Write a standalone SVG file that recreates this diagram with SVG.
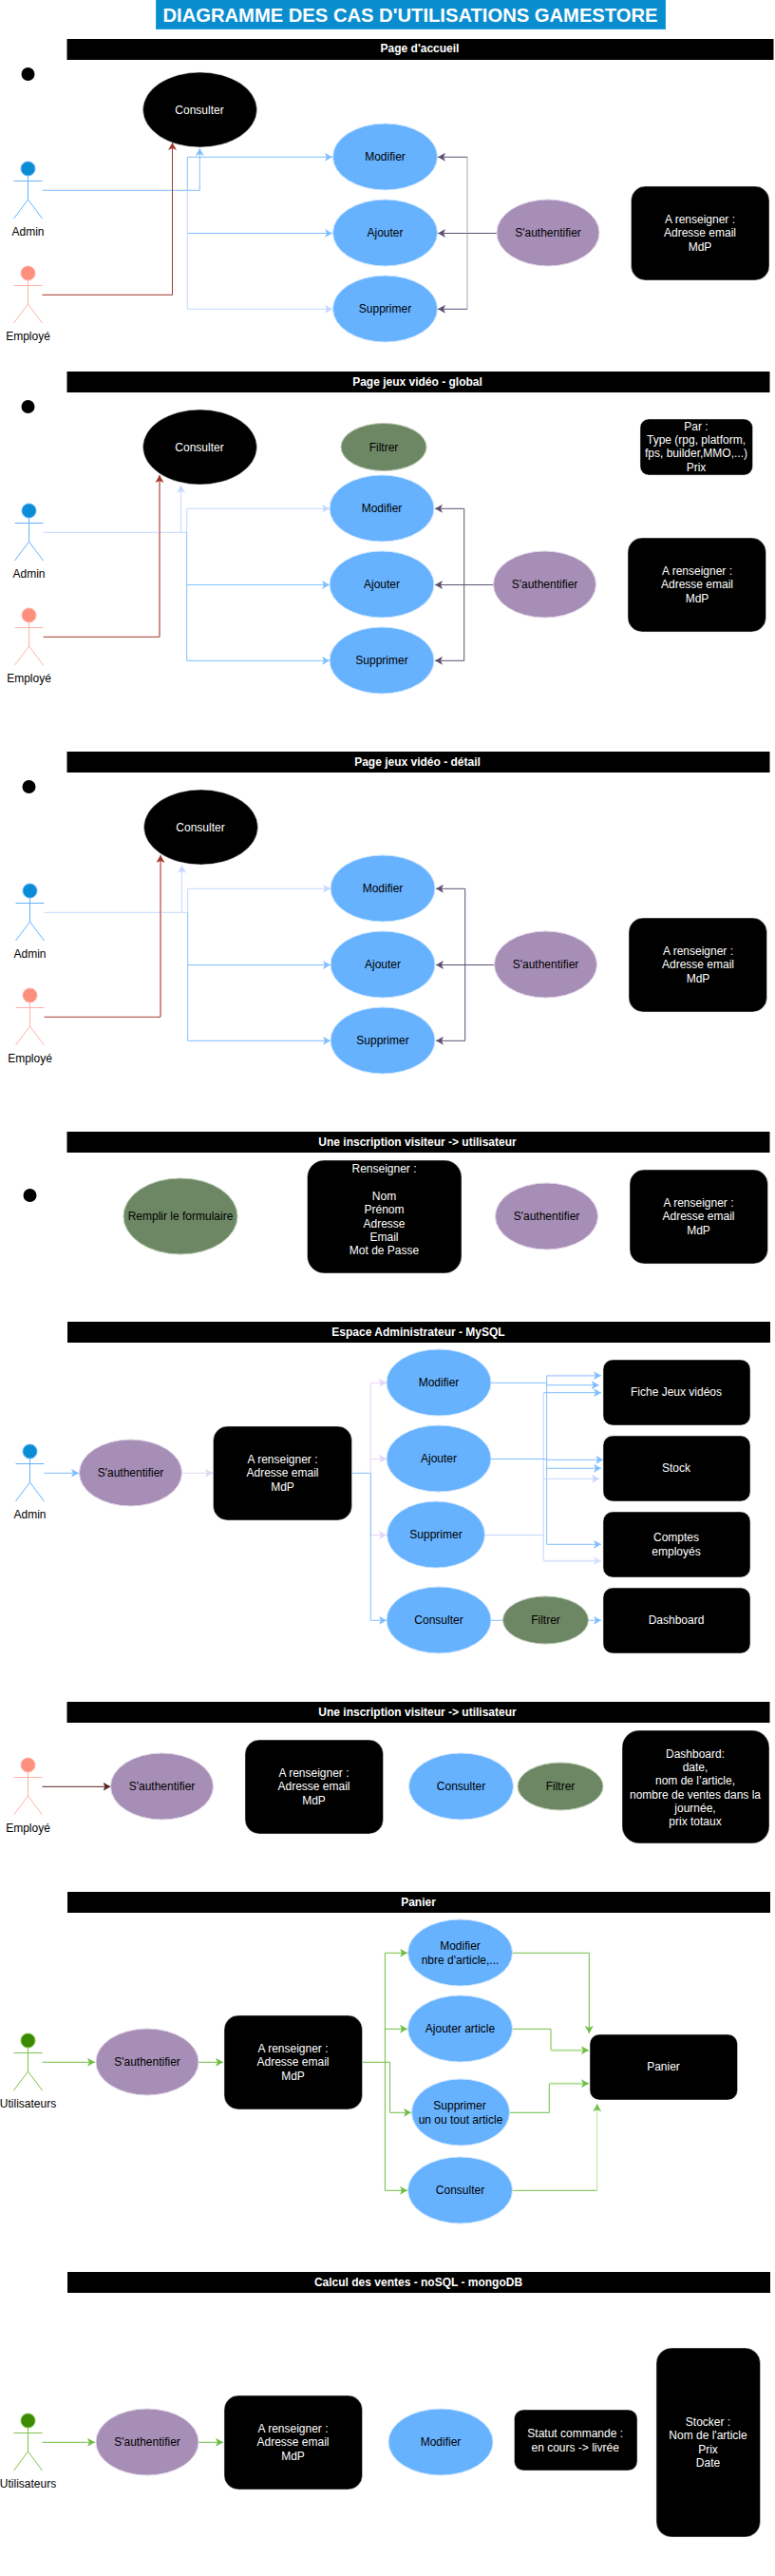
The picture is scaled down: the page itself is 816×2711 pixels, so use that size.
<svg xmlns="http://www.w3.org/2000/svg" width="816" height="2711" viewBox="0 0 816 2711">
<style>
text{font-family:"Liberation Sans",Arial,sans-serif;font-size:12px;text-anchor:middle;fill:#000;opacity:.999}
.bar rect{fill:#000}
.bar text{fill:#fff;font-weight:bold}
.uc ellipse{fill:#66b2ff;stroke:#cce5ff}
.au ellipse{fill:#a68eb6;stroke:#e1d5e7}
.fi ellipse{fill:#6d8764;stroke:#b9c9b0}
.bk ellipse,.bk rect{fill:#000;stroke:#e8e8e8;stroke-width:.5}
.bk text{fill:#fff}
.dot{fill:#000}
.actor path{fill:none}
.admin{stroke:#66b2ff}.admin ellipse{fill:#0a8dd4;stroke:#66b2ff}
.emp{stroke:#ffb3aa}.emp ellipse{fill:#ff8f7d;stroke:#ffb3aa}
.usr{stroke:#7cc24a}.usr ellipse{fill:#3b8a00;stroke:#7cc24a}
.actor text{stroke:none}
#connectors path{fill:none;stroke-width:1}
#connectors .t{stroke-width:2}
.b{stroke:#80bfff}.b.a{marker-end:url(#mb)}
.l{stroke:#c4d8ff}.l.a{marker-end:url(#ml)}
.x{stroke:#dde6ff}.x.a{marker-end:url(#mx)}
.v{stroke:#e5d6f7}.v.a{marker-end:url(#mv)}
.r{stroke:#a4382e}.r.a{marker-end:url(#mr)}
.rl{stroke:#cf8f88}
.p{stroke:#5c4f72}.p.a{marker-end:url(#mp)}
.pl{stroke:#a99fbb}
.n{stroke:#5a2424}.n.a{marker-end:url(#mn)}
.g{stroke:#6fbe44}.g.a{marker-end:url(#mg)}
.gl{stroke:#b5e09a}.gl.a{marker-end:url(#mg)}
</style>
<defs>
<marker id="mb" markerUnits="userSpaceOnUse" markerWidth="9" markerHeight="9" refX="8" refY="4.5" orient="auto"><path d="M0 0L8 4.5L0 9L2 4.5Z" fill="#80bfff"/></marker>
<marker id="ml" markerUnits="userSpaceOnUse" markerWidth="9" markerHeight="9" refX="8" refY="4.5" orient="auto"><path d="M0 0L8 4.5L0 9L2 4.5Z" fill="#c4d8ff"/></marker>
<marker id="mx" markerUnits="userSpaceOnUse" markerWidth="9" markerHeight="9" refX="8" refY="4.5" orient="auto"><path d="M0 0L8 4.5L0 9L2 4.5Z" fill="#d4e0ff"/></marker>
<marker id="mv" markerUnits="userSpaceOnUse" markerWidth="9" markerHeight="9" refX="8" refY="4.5" orient="auto"><path d="M0 0L8 4.5L0 9L2 4.5Z" fill="#e5d6f7"/></marker>
<marker id="mr" markerUnits="userSpaceOnUse" markerWidth="9" markerHeight="9" refX="8" refY="4.5" orient="auto"><path d="M0 0L8 4.5L0 9L2 4.5Z" fill="#a4382e"/></marker>
<marker id="mp" markerUnits="userSpaceOnUse" markerWidth="9" markerHeight="9" refX="8" refY="4.5" orient="auto"><path d="M0 0L8 4.5L0 9L2 4.5Z" fill="#5c4f72"/></marker>
<marker id="mn" markerUnits="userSpaceOnUse" markerWidth="9" markerHeight="9" refX="8" refY="4.5" orient="auto"><path d="M0 0L8 4.5L0 9L2 4.5Z" fill="#5a2424"/></marker>
<marker id="mg" markerUnits="userSpaceOnUse" markerWidth="9" markerHeight="9" refX="8" refY="4.5" orient="auto"><path d="M0 0L8 4.5L0 9L2 4.5Z" fill="#6fbe44"/></marker>
</defs>
<rect width="816" height="2711" fill="#fff"/>

<g id="connectors">
<!-- section 1 -->
<path class="b a" d="M44.5 200.3H210.3V156"/>
<path class="b a" d="M197.3 200.3V165.3H350"/>
<path class="b a" d="M197.3 245.5H350"/>
<path class="l a" d="M197.3 200.3V325.3H350"/>
<path class="r a" d="M44.5 310.3H181.5V150"/>
<path class="p a" d="M523 245.5H461"/>
<path class="pl" d="M492 165.3V325.3"/>
<path class="p a" d="M492 165.3H461"/>
<path class="p a" d="M492 325.3H461"/>
<!-- section 2 -->
<path class="l a" d="M45.5 560.3H190.5V510.7"/>
<path class="l a" d="M190.5 560.3H196.7V535.3H347"/>
<path class="b a" d="M196.7 560.3V695.3H347"/>
<path class="b a" d="M196.7 615.5H347"/>
<path class="rl t" d="M168 670V504"/>
<path class="r" d="M45.5 670.3H168"/>
<path class="r a" d="M168 504V500"/>
<path class="p a" d="M520 615.5H458"/>
<path class="p a" d="M488.7 615.5V535.3H458"/>
<path class="p a" d="M488.7 615.5V695.3H458"/>
<!-- section 3 -->
<path class="l a" d="M46.5 960.3H191.5V910.7"/>
<path class="l a" d="M191.5 960.3H197.7V935.3H348"/>
<path class="b a" d="M197.7 960.3V1095.3H348"/>
<path class="b a" d="M197.7 1015.5H348"/>
<path class="rl t" d="M169 1070V904"/>
<path class="r" d="M46.5 1070.3H169"/>
<path class="r a" d="M169 904V900"/>
<path class="p a" d="M521 1015.5H459"/>
<path class="p a" d="M489.7 1015.5V935.3H459"/>
<path class="p a" d="M489.7 1015.5V1095.3H459"/>
<!-- section 5 -->
<path class="b a" d="M46.5 1550.3H83"/>
<path class="v a" d="M191 1550.3H224"/>
<path class="b" d="M371 1550.3H390.3"/>
<path class="v a" d="M390.3 1550.3V1455.3H407"/>
<path class="v a" d="M390.3 1535.3H407"/>
<path class="v a" d="M390.3 1550.3V1615.5H407"/>
<path class="b a" d="M390.3 1550.3V1705.3H407"/>
<path class="b" d="M517 1455.3H575.7"/>
<path class="l t" d="M575.7 1447.7H629"/>
<path class="b a" d="M629 1447.7H633"/>
<path class="b" d="M575.7 1447.7V1625.3"/>
<path class="b a" d="M575.7 1457.7H630.7"/>
<path class="b a" d="M572.3 1465.7H633"/>
<path class="l" d="M572.3 1465.7V1642.7"/>
<path class="b a" d="M517 1535.5H575.7V1536.3H635.3"/>
<path class="b a" d="M575.7 1545.3H633"/>
<path class="l a" d="M572.3 1556.3H631"/>
<path class="b a" d="M575.7 1625.3H633"/>
<path class="l" d="M510.5 1615.5H572.3"/>
<path class="x t a" d="M572.3 1642.7H633"/>
<path class="b" d="M517 1705.3H530"/>
<path class="b a" d="M619 1705.3H633"/>
<!-- section 6 -->
<path class="n a" d="M44.5 1880.3H116.5"/>
<!-- section 7 -->
<path class="g a" d="M44.5 2170.3H100"/>
<path class="g a" d="M209 2170.3H235"/>
<path class="g" d="M382 2170.3H410.6"/>
<path class="g a" d="M410.6 2170.3V2223.3H433"/>
<path class="g a" d="M405.4 2170.3V2055.3H429"/>
<path class="g a" d="M405.4 2135.3H429"/>
<path class="g a" d="M405.4 2170.3V2305.3H429"/>
<path class="g a" d="M540 2055.3H620.3V2140"/>
<path class="g" d="M540 2135.3H580V2157.7"/>
<path class="gl t a" d="M580 2157.7H620"/>
<path class="g" d="M537 2223.3H578.3V2192.7"/>
<path class="gl t a" d="M578.3 2192.7H620"/>
<path class="g" d="M540 2305.3H628.7"/>
<path class="gl" d="M628.7 2305.3V2220"/>
<path class="g a" d="M628.7 2220V2214.3"/>
<!-- section 8 -->
<path class="g a" d="M44.5 2570.3H100"/>
<path class="g a" d="M209 2570.3H235"/>
</g>

<g id="title"><rect x="164.5" y="-1" width="536" height="31.5" fill="#0a8dcf" stroke="#1ba1e2"/><text x="432" y="22.5" style="font-size:20.2px;font-weight:bold;fill:#fff">DIAGRAMME DES CAS D'UTILISATIONS GAMESTORE</text></g>

<!-- Section 1 -->
<g id="bar1" class="bar"><rect x="70.5" y="41" width="744" height="22"/><text x="442" y="55">Page d'accueil</text></g>
<ellipse id="dot1" class="dot" cx="29.5" cy="78" rx="7" ry="7"/>
<g id="s1-consulter" class="bk"><ellipse cx="210.5" cy="115.5" rx="60" ry="39.5"/><text x="210" y="119.5">Consulter</text></g>
<g id="s1-modifier" class="uc"><ellipse cx="405.5" cy="165" rx="55" ry="35"/><text x="405.5" y="169">Modifier</text></g>
<g id="s1-ajouter" class="uc"><ellipse cx="405.5" cy="245" rx="55" ry="35"/><text x="405.5" y="249">Ajouter</text></g>
<g id="s1-supprimer" class="uc"><ellipse cx="405.5" cy="325" rx="55" ry="35"/><text x="405.5" y="329">Supprimer</text></g>
<g id="s1-auth" class="au"><ellipse cx="577" cy="245" rx="54" ry="35"/><text x="577" y="249">S'authentifier</text></g>
<g id="s1-box" class="bk"><rect x="664.5" y="196" width="145.5" height="99" rx="15"/><text x="737" y="235">A renseigner :</text><text x="737" y="249.4">Adresse email</text><text x="737" y="263.8">MdP</text></g>
<g id="s1-admin" class="actor admin" transform="translate(14.5,170)"><ellipse cx="15" cy="7.5" rx="7.5" ry="7.5"/><path d="M15 15V40M0 20.5H30M15 40L0 60M15 40L30 60"/><text x="15" y="78">Admin</text></g>
<g id="s1-emp" class="actor emp" transform="translate(14.5,280)"><ellipse cx="15" cy="7.5" rx="7.5" ry="7.5"/><path d="M15 15V40M0 20.5H30M15 40L0 60M15 40L30 60"/><text x="15" y="78">Employé</text></g>

<!-- Section 2 -->
<g id="bar2" class="bar"><rect x="70.5" y="391" width="740" height="22"/><text x="439.5" y="406">Page jeux vidéo - global</text></g>
<ellipse id="dot2" class="dot" cx="29.5" cy="428" rx="7" ry="7"/>
<g id="s2-consulter" class="bk"><ellipse cx="210.5" cy="470.5" rx="60" ry="39.5"/><text x="210" y="474.5">Consulter</text></g>
<g id="s2-filtrer" class="fi"><ellipse cx="404" cy="470.5" rx="45" ry="25"/><text x="404" y="474.5">Filtrer</text></g>
<g id="s2-modifier" class="uc"><ellipse cx="402" cy="535" rx="55" ry="35"/><text x="402" y="539">Modifier</text></g>
<g id="s2-ajouter" class="uc"><ellipse cx="402" cy="615" rx="55" ry="35"/><text x="402" y="619">Ajouter</text></g>
<g id="s2-supprimer" class="uc"><ellipse cx="402" cy="695" rx="55" ry="35"/><text x="402" y="699">Supprimer</text></g>
<g id="s2-auth" class="au"><ellipse cx="573.5" cy="615" rx="54" ry="35"/><text x="573.5" y="619">S'authentifier</text></g>
<g id="s2-par" class="bk"><rect x="674" y="441" width="118.5" height="59" rx="9"/><text x="733" y="452.5">Par :</text><text x="733" y="467">Type (rpg, platform,</text><text x="733" y="481.3">fps, builder,MMO,...)</text><text x="733" y="495.7">Prix</text></g>
<g id="s2-box" class="bk"><rect x="661" y="566" width="145.5" height="99" rx="15"/><text x="734" y="605">A renseigner :</text><text x="734" y="619.4">Adresse email</text><text x="734" y="633.8">MdP</text></g>
<g id="s2-admin" class="actor admin" transform="translate(15.5,530)"><ellipse cx="15" cy="7.5" rx="7.5" ry="7.5"/><path d="M15 15V40M0 20.5H30M15 40L0 60M15 40L30 60"/><text x="15" y="78">Admin</text></g>
<g id="s2-emp" class="actor emp" transform="translate(15.5,640)"><ellipse cx="15" cy="7.5" rx="7.5" ry="7.5"/><path d="M15 15V40M0 20.5H30M15 40L0 60M15 40L30 60"/><text x="15" y="78">Employé</text></g>

<!-- Section 3 -->
<g id="bar3" class="bar"><rect x="70.5" y="791" width="740" height="22"/><text x="439.5" y="806">Page jeux vidéo - détail</text></g>
<ellipse id="dot3" class="dot" cx="30.5" cy="828" rx="7" ry="7"/>
<g id="s3-consulter" class="bk"><ellipse cx="211.5" cy="870.5" rx="60" ry="39.5"/><text x="211" y="874.5">Consulter</text></g>
<g id="s3-modifier" class="uc"><ellipse cx="403" cy="935" rx="55" ry="35"/><text x="403" y="939">Modifier</text></g>
<g id="s3-ajouter" class="uc"><ellipse cx="403" cy="1015" rx="55" ry="35"/><text x="403" y="1019">Ajouter</text></g>
<g id="s3-supprimer" class="uc"><ellipse cx="403" cy="1095" rx="55" ry="35"/><text x="403" y="1099">Supprimer</text></g>
<g id="s3-auth" class="au"><ellipse cx="574.5" cy="1015" rx="54" ry="35"/><text x="574.5" y="1019">S'authentifier</text></g>
<g id="s3-box" class="bk"><rect x="662" y="966" width="145.5" height="99" rx="15"/><text x="735" y="1005">A renseigner :</text><text x="735" y="1019.4">Adresse email</text><text x="735" y="1033.8">MdP</text></g>
<g id="s3-admin" class="actor admin" transform="translate(16.5,930)"><ellipse cx="15" cy="7.5" rx="7.5" ry="7.5"/><path d="M15 15V40M0 20.5H30M15 40L0 60M15 40L30 60"/><text x="15" y="78">Admin</text></g>
<g id="s3-emp" class="actor emp" transform="translate(16.5,1040)"><ellipse cx="15" cy="7.5" rx="7.5" ry="7.5"/><path d="M15 15V40M0 20.5H30M15 40L0 60M15 40L30 60"/><text x="15" y="78">Employé</text></g>

<!-- Section 4 -->
<g id="bar4" class="bar"><rect x="70.5" y="1191" width="740" height="22"/><text x="439.5" y="1206">Une inscription visiteur -&gt; utilisateur</text></g>
<ellipse id="dot4" class="dot" cx="31.5" cy="1258" rx="7" ry="7"/>
<g id="s4-remplir" class="fi"><ellipse cx="190" cy="1280" rx="60" ry="40"/><text x="190" y="1284">Remplir le formulaire</text></g>
<g id="s4-form" class="bk"><rect x="323.5" y="1221" width="162.5" height="119" rx="18"/><text x="404.5" y="1234">Renseigner :</text><text x="404.5" y="1263">Nom</text><text x="404.5" y="1277.3">Prénom</text><text x="404.5" y="1291.7">Adresse</text><text x="404.5" y="1306">Email</text><text x="404.5" y="1320.4">Mot de Passe</text></g>
<g id="s4-auth" class="au"><ellipse cx="575.5" cy="1280" rx="54" ry="35"/><text x="575.5" y="1284">S'authentifier</text></g>
<g id="s4-box" class="bk"><rect x="663" y="1231" width="145.5" height="99" rx="15"/><text x="735.5" y="1270">A renseigner :</text><text x="735.5" y="1284.4">Adresse email</text><text x="735.5" y="1298.8">MdP</text></g>

<!-- Section 5 -->
<g id="bar5" class="bar"><rect x="71" y="1391" width="740" height="22"/><text x="440.5" y="1406">Espace Administrateur - MySQL</text></g>
<g id="s5-admin" class="actor admin" transform="translate(16.5,1520)"><ellipse cx="15" cy="7.5" rx="7.5" ry="7.5"/><path d="M15 15V40M0 20.5H30M15 40L0 60M15 40L30 60"/><text x="15" y="78">Admin</text></g>
<g id="s5-auth" class="au"><ellipse cx="137.5" cy="1550" rx="54" ry="35"/><text x="137.5" y="1554">S'authentifier</text></g>
<g id="s5-box" class="bk"><rect x="224.5" y="1501" width="146" height="99" rx="15"/><text x="297.5" y="1540">A renseigner :</text><text x="297.5" y="1554.4">Adresse email</text><text x="297.5" y="1568.8">MdP</text></g>
<g id="s5-modifier" class="uc"><ellipse cx="462" cy="1455" rx="55" ry="35"/><text x="462" y="1459">Modifier</text></g>
<g id="s5-ajouter" class="uc"><ellipse cx="462" cy="1535" rx="55" ry="35"/><text x="462" y="1539">Ajouter</text></g>
<g id="s5-supprimer" class="uc"><ellipse cx="459" cy="1615" rx="51.5" ry="35"/><text x="459" y="1619">Supprimer</text></g>
<g id="s5-consulter" class="uc"><ellipse cx="462" cy="1705" rx="55" ry="35"/><text x="462" y="1709">Consulter</text></g>
<g id="s5-filtrer" class="fi"><ellipse cx="574.5" cy="1705" rx="45" ry="25"/><text x="574.5" y="1709">Filtrer</text></g>
<g id="s5-fiche" class="bk"><rect x="635" y="1431" width="155" height="69" rx="10"/><text x="712" y="1469">Fiche Jeux vidéos</text></g>
<g id="s5-stock" class="bk"><rect x="635" y="1511" width="155" height="69" rx="10"/><text x="712" y="1549">Stock</text></g>
<g id="s5-comptes" class="bk"><rect x="635" y="1591" width="155" height="69" rx="10"/><text x="712" y="1622">Comptes</text><text x="712" y="1637">employés</text></g>
<g id="s5-dashboard" class="bk"><rect x="635" y="1671" width="155" height="69" rx="10"/><text x="712" y="1709">Dashboard</text></g>

<!-- Section 6 -->
<g id="bar6" class="bar"><rect x="70.5" y="1791" width="740" height="22"/><text x="439.5" y="1806">Une inscription visiteur -&gt; utilisateur</text></g>
<g id="s6-emp" class="actor emp" transform="translate(14.5,1850)"><ellipse cx="15" cy="7.5" rx="7.5" ry="7.5"/><path d="M15 15V40M0 20.5H30M15 40L0 60M15 40L30 60"/><text x="15" y="78">Employé</text></g>
<g id="s6-auth" class="au"><ellipse cx="170.5" cy="1880" rx="54" ry="35"/><text x="170.5" y="1884">S'authentifier</text></g>
<g id="s6-box" class="bk"><rect x="258" y="1831" width="145.5" height="99" rx="15"/><text x="330.5" y="1870">A renseigner :</text><text x="330.5" y="1884.4">Adresse email</text><text x="330.5" y="1898.8">MdP</text></g>
<g id="s6-consulter" class="uc"><ellipse cx="485.5" cy="1880" rx="55" ry="35"/><text x="485.5" y="1884">Consulter</text></g>
<g id="s6-filtrer" class="fi"><ellipse cx="590" cy="1880" rx="45" ry="25"/><text x="590" y="1884">Filtrer</text></g>
<g id="s6-dash" class="bk"><rect x="655" y="1821" width="155" height="119" rx="18"/><text x="732" y="1849.5">Dashboard:</text><text x="732" y="1864">date,</text><text x="732" y="1878.3">nom de l’article,</text><text x="732" y="1892.7">nombre de ventes dans la</text><text x="732" y="1907">journée,</text><text x="732" y="1921.4">prix totaux</text></g>

<!-- Section 7 -->
<g id="bar7" class="bar"><rect x="71" y="1991" width="740" height="22"/><text x="440.5" y="2006">Panier</text></g>
<g id="s7-user" class="actor usr" transform="translate(14.5,2140)"><ellipse cx="15" cy="7.5" rx="7.5" ry="7.5"/><path d="M15 15V40M0 20.5H30M15 40L0 60M15 40L30 60"/><text x="15" y="78">Utilisateurs</text></g>
<g id="s7-auth" class="au"><ellipse cx="155" cy="2170" rx="54" ry="35"/><text x="155" y="2174">S'authentifier</text></g>
<g id="s7-box" class="bk"><rect x="236" y="2121" width="145.5" height="99" rx="15"/><text x="308.5" y="2160">A renseigner :</text><text x="308.5" y="2174.4">Adresse email</text><text x="308.5" y="2188.8">MdP</text></g>
<g id="s7-modifier" class="uc"><ellipse cx="484.5" cy="2055" rx="55" ry="35"/><text x="484.5" y="2052">Modifier</text><text x="484.5" y="2067">nbre d'article,...</text></g>
<g id="s7-ajouter" class="uc"><ellipse cx="484.5" cy="2135" rx="55" ry="35"/><text x="484.5" y="2139">Ajouter article</text></g>
<g id="s7-supprimer" class="uc"><ellipse cx="485" cy="2223" rx="51.5" ry="35"/><text x="484" y="2220">Supprimer</text><text x="485" y="2235">un ou tout article</text></g>
<g id="s7-consulter" class="uc"><ellipse cx="484.5" cy="2305" rx="55" ry="35"/><text x="484.5" y="2309">Consulter</text></g>
<g id="s7-panier" class="bk"><rect x="621" y="2141" width="155.5" height="69" rx="10"/><text x="698.5" y="2179">Panier</text></g>

<!-- Section 8 -->
<g id="bar8" class="bar"><rect x="71" y="2391" width="740" height="22"/><text x="440.5" y="2406">Calcul des ventes - noSQL - mongoDB</text></g>
<g id="s8-user" class="actor usr" transform="translate(14.5,2540)"><ellipse cx="15" cy="7.5" rx="7.5" ry="7.5"/><path d="M15 15V40M0 20.5H30M15 40L0 60M15 40L30 60"/><text x="15" y="78">Utilisateurs</text></g>
<g id="s8-auth" class="au"><ellipse cx="155" cy="2570" rx="54" ry="35"/><text x="155" y="2574">S'authentifier</text></g>
<g id="s8-box" class="bk"><rect x="236" y="2521" width="145.5" height="99" rx="15"/><text x="308.5" y="2560">A renseigner :</text><text x="308.5" y="2574.4">Adresse email</text><text x="308.5" y="2588.8">MdP</text></g>
<g id="s8-modifier" class="uc"><ellipse cx="464" cy="2570" rx="55" ry="35"/><text x="464" y="2574">Modifier</text></g>
<g id="s8-statut" class="bk"><rect x="541.5" y="2536" width="129.5" height="64" rx="9.6"/><text x="605.7" y="2565">Statut commande :</text><text x="605.7" y="2580.4">en cours -&gt; livrée</text></g>
<g id="s8-stocker" class="bk"><rect x="691" y="2471" width="109.5" height="199" rx="16"/><text x="745.5" y="2553">Stocker :</text><text x="745.5" y="2567.4">Nom de l'article</text><text x="745.5" y="2581.8">Prix</text><text x="745.5" y="2596.2">Date</text></g>
</svg>
